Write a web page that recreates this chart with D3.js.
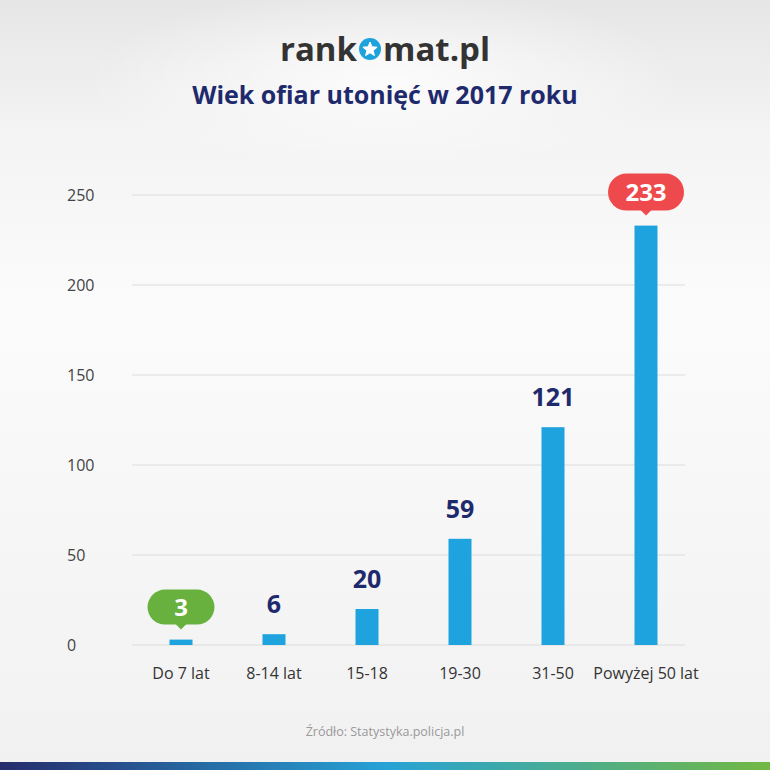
<!DOCTYPE html>
<html><head><meta charset="utf-8">
<script src="https://cdn.jsdelivr.net/npm/d3@7/dist/d3.min.js"></script>
<style>html,body{margin:0;padding:0;background:#f3f3f3}svg{display:block}</style>
</head><body>
<script>
const categories = ["Do 7 lat","8-14 lat","15-18","19-30","31-50","Powyżej 50 lat"];
const values = [3,6,20,59,121,233];
const yTicks = [0,50,100,150,200,250];
const title = "Wiek ofiar utonięć w 2017 roku";
const source = "Źródło: Statystyka.policja.pl";

const W=770,H=770;
const FONT="'Open Sans','Noto Sans',sans-serif";
const svg=d3.select("body").append("svg").attr("width",W).attr("height",H);
const defs=svg.append("defs");
const bg=defs.append("linearGradient").attr("id","bg").attr("x1",0).attr("y1",0).attr("x2",0).attr("y2",1);
[[0,"#e6e6e6"],[0.18,"#f4f4f4"],[0.4,"#fbfbfb"],[0.7,"#f6f6f6"],[1,"#f1f1f1"]].forEach(s=>bg.append("stop").attr("offset",s[0]).attr("stop-color",s[1]));
const rg=defs.append("radialGradient").attr("id","spot").attr("cx",0.5).attr("cy",0.5).attr("r",0.5);
rg.append("stop").attr("offset",0).attr("stop-color","#ffffff").attr("stop-opacity",0.8);
rg.append("stop").attr("offset",1).attr("stop-color","#ffffff").attr("stop-opacity",0);
const bb=defs.append("linearGradient").attr("id","bar").attr("x1",0).attr("x2",1);
[[0,"#262c6b"],[0.5,"#27a2d6"],[1,"#72b843"]].forEach(s=>bb.append("stop").attr("offset",s[0]).attr("stop-color",s[1]));

svg.append("rect").attr("width",W).attr("height",H).attr("fill","url(#bg)");
svg.append("ellipse").attr("cx",385).attr("cy",80).attr("rx",300).attr("ry",90).attr("fill","url(#spot)");
svg.append("rect").attr("x",0).attr("y",762).attr("width",W).attr("height",8).attr("fill","url(#bar)");

// logo
const logo=svg.append("g");
const t1=logo.append("text").attr("y",61).attr("font-family",FONT).attr("font-weight",700).attr("font-size",33).attr("fill","#333").text("rank");
const t2=logo.append("text").attr("y",61).attr("font-family",FONT).attr("font-weight",700).attr("font-size",33).attr("fill","#333").text("mat.pl");
const w1=t1.node().getComputedTextLength(), w2=t2.node().getComputedTextLength();
const cr=11, gap=2;
const total=w1+gap*2+cr*2+w2;
const lx=385-total/2;
t1.attr("x",lx);
const ccx=lx+w1+gap+cr;
logo.append("circle").attr("cx",ccx).attr("cy",49).attr("r",cr).attr("fill","#1ea2dc");
const star=d3.range(10).map(i=>{const a=-Math.PI/2+i*Math.PI/5;const r=i%2?3.3:7.5;return [ccx+r*Math.cos(a),49.5+r*Math.sin(a)];});
logo.append("path").attr("d",d3.line()(star)+"Z").attr("fill","#fff").attr("stroke","#fff").attr("stroke-width",1).attr("stroke-linejoin","round");
t2.attr("x",ccx+cr+gap);

svg.append("text").attr("x",385).attr("y",104).attr("text-anchor","middle").attr("font-family",FONT).attr("font-weight",700).attr("font-size",25).attr("fill","#1f2a6d").text(title);

// scales
const y=d3.scaleLinear().domain([0,250]).range([645,195]);
const x=d3.scalePoint().domain(categories).range([181,646]);
const bw=23;

const grid=svg.append("g");
grid.selectAll("line").data(yTicks).join("line")
  .attr("x1",132).attr("x2",685).attr("y1",d=>y(d)).attr("y2",d=>y(d))
  .attr("stroke","#dcdcdc").attr("stroke-width",1);
grid.selectAll("text").data(yTicks).join("text")
  .attr("x",67).attr("y",d=>y(d)).attr("dy","0.35em")
  .attr("font-family",FONT).attr("font-size",16).attr("fill","#444").text(d=>d);

svg.append("g").selectAll("rect").data(values).join("rect")
  .attr("x",(d,i)=>x(categories[i])-bw/2).attr("width",bw)
  .attr("y",d=>y(d)).attr("height",d=>y(0)-y(d)).attr("fill","#1fa3de");

svg.append("g").selectAll("text").data(categories).join("text")
  .attr("x",d=>x(d)).attr("y",679).attr("text-anchor","middle")
  .attr("font-family",FONT).attr("font-size",16).attr("fill","#333").text(d=>d);

const minI=values.indexOf(d3.min(values)), maxI=values.indexOf(d3.max(values));
values.forEach((v,i)=>{
  const cx=x(categories[i]);
  if(i===minI||i===maxI){
    const col=i===minI?"#69b13e":"#ee4a4d";
    const w=i===minI?67:76, bh=i===minI?35:37;
    const tip=y(v)-10, by=tip-5-bh;
    const g=svg.append("g");
    g.append("rect").attr("x",cx-w/2).attr("y",by).attr("width",w).attr("height",bh).attr("rx",bh/2).attr("fill",col);
    g.append("path").attr("d",`M${cx-6},${by+bh-1}L${cx},${tip}L${cx+6},${by+bh-1}Z`).attr("fill",col);
    g.append("text").attr("x",cx).attr("y",by+bh/2).attr("dy","0.36em").attr("text-anchor","middle")
      .attr("font-family",FONT).attr("font-weight",700).attr("font-size",24).attr("fill","#fff").text(v);
  } else {
    svg.append("text").attr("x",cx).attr("y",y(v)-21).attr("text-anchor","middle")
      .attr("font-family",FONT).attr("font-weight",700).attr("font-size",25).attr("fill","#1f2a6d").text(v);
  }
});

svg.append("text").attr("x",385).attr("y",736).attr("text-anchor","middle").attr("font-family",FONT).attr("font-size",12.5).attr("fill","#999").text(source);
</script>
</body></html>
